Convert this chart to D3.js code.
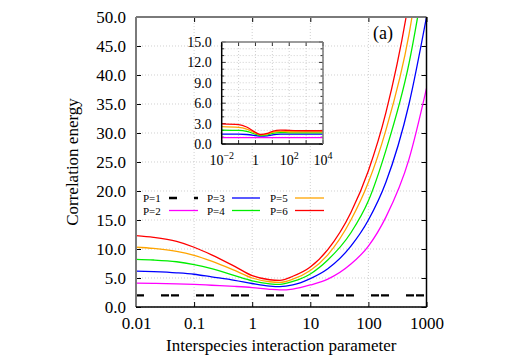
<!DOCTYPE html>
<html><head><meta charset="utf-8">
<script src="https://cdn.jsdelivr.net/npm/d3@7"></script>
<style>
body{margin:0;background:#fff}
svg{display:block}
</style>
</head><body>
<svg id="c" width="510" height="357"></svg>
<script>
// ---- data ----
const xVals = [0.01,0.02,0.05,0.1,0.2,0.5,1,2,3,5,10,20,50,100,200,500,1000];
const seriesNames = ["P=1","P=2","P=3","P=4","P=5","P=6"];
const seriesColors = ["#000000","#ff00ff","#0000ff","#00ee00","#ffa500","#ff0000"];
const p1 = [2.0,2.0,2.0,2.0,2.0,2.0,2.0,2.0,2.0,2.0,2.0,2.0,2.0,2.0,2.0,2.0,2.0];
const p2 = [4.1,4.08,4.0,3.9,3.75,3.55,3.35,3.05,2.95,3.1,3.8,4.8,7.4,10.5,15.5,25.5,37.7];
const p3 = [6.2,6.1,5.9,5.65,5.2,4.6,4.05,3.6,3.5,3.8,4.9,6.6,10.5,15.0,21.5,35,50];
const p4 = [8.2,8.1,7.8,7.3,6.6,5.4,4.5,4.0,3.9,4.4,5.7,8.1,12.8,18.3,27,42,59];
const p5 = [10.3,10.1,9.6,8.9,7.9,6.3,5.0,4.35,4.25,4.8,6.3,9.0,15.0,21.5,30.5,47,67];
const p6 = [12.3,12.0,11.3,10.3,9.0,7.0,5.4,4.7,4.6,5.3,6.9,9.9,16.3,23.5,33.5,53,75];
const mainSeries = [p1,p2,p3,p4,p5,p6];
const xTickVals = [0.01,0.1,1,10,100,1000];
const xTickLabels = ["0.01","0.1","1","10","100","1000"];
const yTickVals = [0,5,10,15,20,25,30,35,40,45,50];

// inset data
const insetX = [0.01,0.1,0.3,1,2,5,10,30,100,1000,10000];
const i2 = [0.95,0.95,0.95,0.95,0.95,0.95,0.95,0.95,0.95,0.95,0.95];
const i3 = [1.45,1.45,1.4,1.25,1.15,1.2,1.35,1.45,1.45,1.45,1.45];
const i4 = [2.05,2.0,1.85,1.45,1.25,1.35,1.55,1.68,1.65,1.63,1.63];
const i5 = [2.55,2.45,2.2,1.6,1.35,1.45,1.7,1.85,1.8,1.78,1.78];
const i6 = [2.95,2.85,2.5,1.7,1.4,1.55,1.85,2.05,2.0,1.95,1.95];
const insetSeries = [i2,i3,i4,i5,i6];
const insetColors = ["#ff00ff","#0000ff","#00ee00","#ffa500","#ff0000"];
const insetXTicks = [1e-2,1e-1,1,1e1,1e2,1e3,1e4];
const insetXLabels = [[1e-2,"10","−2"],[1,"1",""],[1e2,"10","2"],[1e4,"10","4"]];
const insetYTicks = [0,3,6,9,12,15];

// ---- pick an installed serif font ----
const cands = ["Liberation Serif","Tinos","Times New Roman","Times","DejaVu Serif","Noto Serif","FreeSerif","Nimbus Roman","Noto Serif CJK SC","Noto Serif CJK JP"];
const cv = document.createElement("canvas").getContext("2d");
function w(f){cv.font = "20px " + f; return cv.measureText("Correlation energy 0.123").width;}
let found = null;
for (const c of cands){
  if (w(`"${c}", monospace`) !== w("monospace") && w(`"${c}", sans-serif`) !== w("sans-serif")) { found = c; break; }
}
const FONT = found ? `"${found}", serif` : "serif";

const svg = d3.select("#c").attr("font-family", FONT);
const L=136, R=426.5, T=17, B=307;
const x = d3.scaleLog().domain([0.01,1000]).range([L,R]);
const y = d3.scaleLinear().domain([0,50]).range([B,T]);

svg.append("defs").append("clipPath").attr("id","clipMain")
  .append("rect").attr("x",L).attr("y",T).attr("width",R-L).attr("height",B-T);

// grid
const grid = svg.append("g").attr("stroke","#bbb").attr("stroke-width",0.7).attr("stroke-dasharray","1,2");
xTickVals.forEach(v=>grid.append("line").attr("x1",x(v)).attr("x2",x(v)).attr("y1",T).attr("y2",B));
yTickVals.forEach(v=>grid.append("line").attr("x1",L).attr("x2",R).attr("y1",y(v)).attr("y2",y(v)));

// axes
const ax = svg.append("g").attr("transform",`translate(${L},0)`)
  .call(d3.axisLeft(y).tickValues(yTickVals).tickFormat(d3.format(".1f")).tickSizeInner(-5).tickSizeOuter(0).tickPadding(10));
const axR = svg.append("g").attr("transform",`translate(${R},0)`)
  .call(d3.axisRight(y).tickValues(yTickVals).tickFormat("").tickSizeInner(-5).tickSizeOuter(0));
const axB = svg.append("g").attr("transform",`translate(0,${B})`)
  .call(d3.axisBottom(x).tickValues(xTickVals).tickFormat((d,i)=>xTickLabels[i]).tickSizeInner(-5).tickSizeOuter(0).tickPadding(10));
const axT = svg.append("g").attr("transform",`translate(0,${T})`)
  .call(d3.axisTop(x).tickValues(xTickVals).tickFormat("").tickSizeInner(-5).tickSizeOuter(0));
[ax,axR,axB,axT].forEach(g=>{g.attr("font-family",FONT).attr("font-size",17);g.select(".domain").remove();g.selectAll("line").attr("stroke","#000");g.selectAll("text").attr("fill","#000");});

// curves
const line = d3.line().x((d,i)=>x(xVals[i])).y(d=>y(d)).curve(d3.curveMonotoneX);
const gc = svg.append("g").attr("clip-path","url(#clipMain)");
mainSeries.forEach((s,k)=>{
  const p = gc.append("path").attr("d",line(s)).attr("fill","none")
    .attr("stroke",seriesColors[k]).attr("stroke-width",k===0?2.4:1.3);
  if(k===0) p.attr("stroke-dasharray","8,17,8,2");
});

// frame
svg.append("line").attr("x1",L).attr("x2",L).attr("y1",T).attr("y2",B).attr("stroke","#7a7a7a").attr("stroke-width",2);
svg.append("line").attr("x1",L).attr("x2",R).attr("y1",T).attr("y2",T).attr("stroke","#7a7a7a").attr("stroke-width",2);
svg.append("line").attr("x1",R).attr("x2",R).attr("y1",T).attr("y2",B).attr("stroke","#000").attr("stroke-width",1.5);
svg.append("line").attr("x1",L).attr("x2",R).attr("y1",B).attr("y2",B).attr("stroke","#000").attr("stroke-width",1.5);

// titles
svg.append("text").attr("x",(L+R)/2).attr("y",351).attr("text-anchor","middle").attr("font-size",17)
  .text("Interspecies interaction parameter");
svg.append("text").attr("transform",`translate(78,${(T+B)/2}) rotate(-90)`).attr("text-anchor","middle").attr("font-size",17)
  .text("Correlation energy");
svg.append("text").attr("x",373).attr("y",39).attr("font-size",18).text("(a)");

// legend
const legCols=[143,207,270], legSample=[[169,198],[232,260],[295,324]], legRows=[198,210.5];
seriesNames.forEach((n,k)=>{
  const c=Math.floor(k/2), r=k%2;
  svg.append("text").attr("x",legCols[c]).attr("y",legRows[r]+4).attr("font-size",11).text(n);
  const l = svg.append("line").attr("x1",legSample[c][0]).attr("x2",legSample[c][1])
    .attr("y1",legRows[r]).attr("y2",legRows[r]).attr("stroke",seriesColors[k]).attr("stroke-width",k===0?2.4:1.3);
  if(k===0) l.attr("stroke-dasharray","8,17,8,2");
});

// ---- inset ----
const IL=221.7, IR=323, IT=42, IB=144;
const xi = d3.scaleLog().domain([1e-2,1e4]).range([IL,IR]);
const yi = d3.scaleLinear().domain([0,15]).range([IB,IT]);
svg.append("rect").attr("x",IL).attr("y",IT).attr("width",IR-IL).attr("height",IB-IT).attr("fill","#fff");
const ig = svg.append("g").attr("stroke","#bbb").attr("stroke-width",0.7).attr("stroke-dasharray","1,2");
insetXTicks.forEach(v=>ig.append("line").attr("x1",xi(v)).attr("x2",xi(v)).attr("y1",IT).attr("y2",IB));
d3.range(1,15).forEach(v=>ig.append("line").attr("x1",IL).attr("x2",IR).attr("y1",yi(v)).attr("y2",yi(v)));
const it = svg.append("g").attr("stroke","#000").attr("stroke-width",0.8);
insetXTicks.forEach(v=>{
  it.append("line").attr("x1",xi(v)).attr("x2",xi(v)).attr("y1",IB).attr("y2",IB-4);
  it.append("line").attr("x1",xi(v)).attr("x2",xi(v)).attr("y1",IT).attr("y2",IT+4);
});
d3.range(0,16).forEach(v=>{
  const len = v%3===0?4:2.5;
  it.append("line").attr("x1",IL).attr("x2",IL+len).attr("y1",yi(v)).attr("y2",yi(v));
  it.append("line").attr("x1",IR).attr("x2",IR-len).attr("y1",yi(v)).attr("y2",yi(v));
});
const ily = svg.append("g").attr("transform",`translate(${IL},0)`)
  .call(d3.axisLeft(yi).tickValues(insetYTicks).tickFormat(d3.format(".1f")).tickSize(0).tickPadding(10));
ily.select(".domain").remove();
ily.attr("font-family",FONT).attr("font-size",14);
insetXLabels.forEach(([v,b,e])=>{
  const t = svg.append("text").attr("x",xi(v)).attr("y",IB+21).attr("text-anchor","middle").attr("font-size",14);
  t.append("tspan").text(b);
  if(e) t.append("tspan").attr("dy",-6).attr("font-size",10).text(e);
});
const il = d3.line().x((d,i)=>xi(insetX[i])).y(d=>yi(d)).curve(d3.curveMonotoneX);
insetSeries.forEach((s,k)=>svg.append("path").attr("d",il(s)).attr("fill","none").attr("stroke",insetColors[k]).attr("stroke-width",1.3));
svg.append("line").attr("x1",IL).attr("x2",IL).attr("y1",IT).attr("y2",IB).attr("stroke","#000").attr("stroke-width",1.5);
svg.append("line").attr("x1",IL).attr("x2",IR).attr("y1",IB).attr("y2",IB).attr("stroke","#000").attr("stroke-width",1.5);
svg.append("line").attr("x1",IR).attr("x2",IR).attr("y1",IT).attr("y2",IB).attr("stroke","#7a7a7a").attr("stroke-width",1.5);
svg.append("line").attr("x1",IL).attr("x2",IR).attr("y1",IT).attr("y2",IT).attr("stroke","#7a7a7a").attr("stroke-width",1.5);
</script>
</body></html>
